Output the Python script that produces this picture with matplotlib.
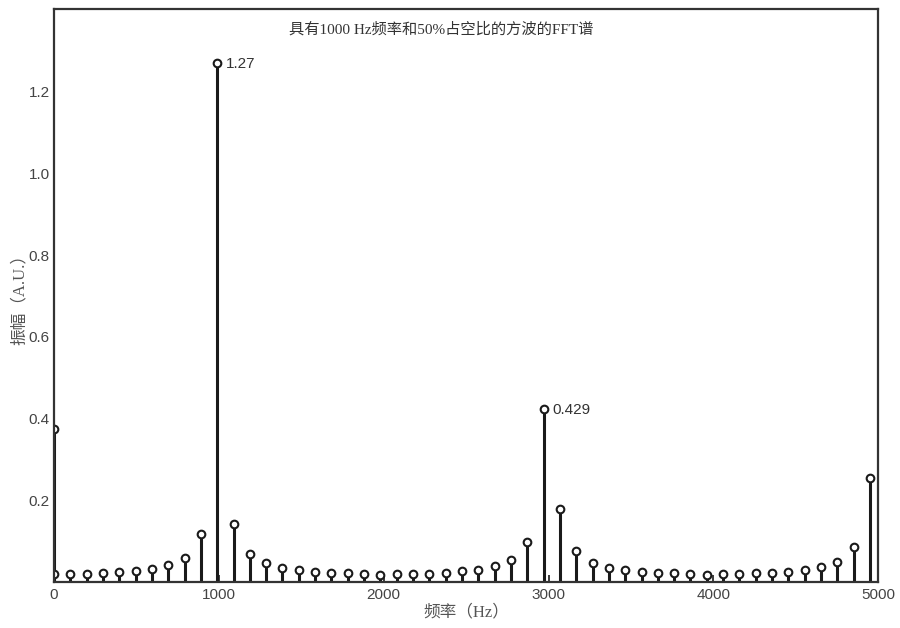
import matplotlib
matplotlib.use("Agg")
import matplotlib.pyplot as plt

# FFT bins (Hz) and amplitudes; the 0 Hz bin shows two markers
freqs = [0, 0, 99, 198, 297, 396, 495, 594, 693, 792, 891, 990,
         1089, 1188, 1287, 1386, 1485, 1584, 1683, 1782, 1881, 1980,
         2079, 2178, 2277, 2376, 2475, 2574, 2673, 2772, 2871, 2970,
         3069, 3168, 3267, 3366, 3465, 3564, 3663, 3762, 3861, 3960,
         4059, 4158, 4257, 4356, 4455, 4554, 4653, 4752, 4851, 4950]
amps = [0.375, 0.021, 0.020, 0.021, 0.023, 0.025, 0.027, 0.033, 0.042, 0.060, 0.118, 1.27,
        0.142, 0.070, 0.047, 0.035, 0.030, 0.026, 0.023, 0.022, 0.020, 0.019,
        0.020, 0.020, 0.021, 0.023, 0.027, 0.031, 0.041, 0.056, 0.098, 0.424,
        0.180, 0.076, 0.048, 0.035, 0.030, 0.026, 0.024, 0.022, 0.020, 0.019,
        0.020, 0.020, 0.022, 0.023, 0.026, 0.031, 0.039, 0.051, 0.086, 0.255]

peak_freqs = [990, 2970]
peak_amps = [1.27, 0.424]
peak_labels = ["1.27", "0.429"]

title = "具有1000 Hz频率和50%占空比的方波的FFT谱"
xlab = "频率（Hz）"
ylab = "振幅（A.U.）"

serif = ["Liberation Serif", "Noto Sans CJK SC"]
sans = ["Liberation Sans", "DejaVu Sans"]

fig = plt.figure(figsize=(9, 6.28), dpi=100)
ax = fig.add_axes([0.06, 0.0725, 0.9158, 0.9125])

markerline, stemlines, baseline = ax.stem(freqs, amps, basefmt=" ")
plt.setp(stemlines, color="#1a1a1a", linewidth=2.2)
plt.setp(markerline, color="#1a1a1a", marker="o", markersize=5.5,
         markerfacecolor="white", markeredgewidth=1.5)

for fx, fy, lab in zip(peak_freqs, peak_amps, peak_labels):
    ax.annotate(lab, (fx, fy), xytext=(6, -1), textcoords="offset points",
                va="center", ha="left", fontsize=11, color="#333333", family=sans)

ax.set_xlim(0, 5000)
ax.set_ylim(0, 1.4)
ax.set_xticks([0, 1000, 2000, 3000, 4000, 5000])
ax.set_yticks([0.2, 0.4, 0.6, 0.8, 1.0, 1.2])
ax.set_yticklabels(["0.2", "0.4", "0.6", "0.8", "1.0", "1.2"])

ax.tick_params(axis="x", direction="in", length=5, width=1.2, pad=4,
               labelsize=11, labelcolor="#444444", color="#1a1a1a")
ax.tick_params(axis="y", length=0, pad=3, labelsize=11, labelcolor="#444444")
for lbl in ax.get_xticklabels() + ax.get_yticklabels():
    lbl.set_family(sans)

for sp in ax.spines.values():
    sp.set_linewidth(1.6)
    sp.set_color("#333333")

ax.text(0.47, 0.965, title, transform=ax.transAxes, ha="center", va="center",
        fontsize=11, color="#333333", family=serif)
ax.set_xlabel(xlab, fontsize=12, color="#555555", family=serif, labelpad=2)
ax.set_ylabel(ylab, fontsize=12, color="#555555", family=serif, labelpad=1)

fig.savefig("out.png", dpi=100)
